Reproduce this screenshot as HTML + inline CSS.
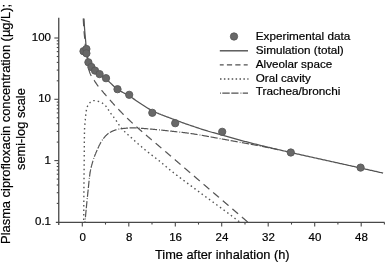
<!DOCTYPE html><html><head><meta charset="utf-8"><title>Plasma ciprofloxacin concentration</title><style>html,body{margin:0;padding:0;background:#fff}</style></head><body><svg width="385" height="262" viewBox="0 0 385 262" style="display:block">
<rect width="385" height="262" fill="#fff"/>
<g stroke="#484848" fill="none">
<path d="M58.75 17.8V225.0" stroke-width="1.3"/>
<path d="M55.85 222.4H384.6" stroke-width="1.15"/>
</g>
<g stroke="#484848" stroke-width="1.1" fill="none">
<path d="M56.75 203.4H58.75"/>
<path d="M56.75 192.7H58.75"/>
<path d="M56.75 185.0H58.75"/>
<path d="M56.75 179.1H58.75"/>
<path d="M56.75 174.2H58.75"/>
<path d="M56.75 170.1H58.75"/>
<path d="M56.75 166.5H58.75"/>
<path d="M56.75 163.4H58.75"/>
<path d="M54.35 160.6H58.75"/>
<path d="M56.75 142.1H58.75"/>
<path d="M56.75 131.4H58.75"/>
<path d="M56.75 123.7H58.75"/>
<path d="M56.75 117.8H58.75"/>
<path d="M56.75 112.9H58.75"/>
<path d="M56.75 108.8H58.75"/>
<path d="M56.75 105.2H58.75"/>
<path d="M56.75 102.1H58.75"/>
<path d="M54.35 99.3H58.75"/>
<path d="M56.75 80.8H58.75"/>
<path d="M56.75 70.1H58.75"/>
<path d="M56.75 62.4H58.75"/>
<path d="M56.75 56.5H58.75"/>
<path d="M56.75 51.6H58.75"/>
<path d="M56.75 47.5H58.75"/>
<path d="M56.75 43.9H58.75"/>
<path d="M56.75 40.8H58.75"/>
<path d="M54.35 38.0H58.75"/>
<path d="M82.3 222.4v4.2"/>
<path d="M105.5 222.4v2.2"/>
<path d="M128.8 222.4v4.2"/>
<path d="M152.0 222.4v2.2"/>
<path d="M175.3 222.4v4.2"/>
<path d="M198.5 222.4v2.2"/>
<path d="M221.7 222.4v4.2"/>
<path d="M245.0 222.4v2.2"/>
<path d="M268.2 222.4v4.2"/>
<path d="M291.5 222.4v2.2"/>
<path d="M314.7 222.4v4.2"/>
<path d="M337.9 222.4v2.2"/>
<path d="M361.2 222.4v4.2"/>
<path d="M384.4 222.4v2.2"/>
</g>
<g font-family="Liberation Sans, Arial, Helvetica, sans-serif" fill="#000" stroke="#000" stroke-width="0.2">
<g font-size="11.5">
<text x="51" y="224.9" text-anchor="end">0.1</text>
<text x="51" y="163.6" text-anchor="end">1</text>
<text x="51" y="102.3" text-anchor="end">10</text>
<text x="51" y="41.0" text-anchor="end">100</text>
<text x="82.6" y="240.7" text-anchor="middle">0</text>
<text x="129.1" y="240.7" text-anchor="middle">8</text>
<text x="175.6" y="240.7" text-anchor="middle">16</text>
<text x="222.0" y="240.7" text-anchor="middle">24</text>
<text x="268.5" y="240.7" text-anchor="middle">32</text>
<text x="315.0" y="240.7" text-anchor="middle">40</text>
<text x="361.5" y="240.7" text-anchor="middle">48</text>
</g>
<g font-size="12.2">
<text x="155" y="258.8" textLength="134.6" lengthAdjust="spacingAndGlyphs">Time after inhalation (h)</text>
<text transform="translate(10,243.9) rotate(-90)" textLength="240" lengthAdjust="spacingAndGlyphs">Plasma ciprofloxacin concentration (µg/L);</text>
<text transform="translate(25.4,170) rotate(-90)" textLength="81.8" lengthAdjust="spacingAndGlyphs">semi-log scale</text>
</g>
<g font-size="11.3">
<text x="255.8" y="40.1" textLength="94.5" lengthAdjust="spacingAndGlyphs">Experimental data</text>
<text x="255.8" y="53.9" textLength="87.9" lengthAdjust="spacingAndGlyphs">Simulation (total)</text>
<text x="255.8" y="67.6" textLength="76.4" lengthAdjust="spacingAndGlyphs">Alveolar space</text>
<text x="255.8" y="81.5" textLength="55.0" lengthAdjust="spacingAndGlyphs">Oral cavity</text>
<text x="255.8" y="95.3" textLength="84.6" lengthAdjust="spacingAndGlyphs">Trachea/bronchi</text>
</g>
</g>
<circle cx="234" cy="36.5" r="3.65" fill="#686868" stroke="#585858" stroke-width="0.9"/>
<g stroke="#505050" stroke-width="1.2" fill="none">
<path d="M219.8 50.8H248" stroke-width="1.4"/>
<path d="M219.8 64.8H247.7" stroke-dasharray="5.2 3.2" stroke-dashoffset="1.3"/>
<path d="M220 79H248.5" stroke-dasharray="1.5 2.4" stroke-width="1.4"/>
<path d="M220 93.2H248" stroke-dasharray="7.4 1.6 7.2 2 0.9 1.3" stroke-dashoffset="18.1"/>
</g>
<g transform="translate(0.1,0.4)">
<g stroke="#545454" stroke-width="1.25" fill="none" stroke-linejoin="round">
<path d="M83.90 18.20L83.94 19.11L83.98 20.02L84.03 20.94L84.08 21.85L84.13 22.76L84.18 23.67L84.24 24.58L84.29 25.49L84.35 26.41L84.41 27.32L84.47 28.23L84.54 29.14L84.60 30.05L84.67 30.96L84.75 31.87L84.82 32.78L84.91 33.69L84.99 34.60L85.08 35.50L85.16 36.41L85.25 37.32L85.34 38.23L85.42 39.14L85.50 40.05L85.58 40.96L85.66 41.87L85.73 42.78L85.81 43.69L85.88 44.60L85.96 45.51L86.03 46.42L86.12 47.33L86.21 48.24L86.30 49.15L86.41 50.05L86.53 50.95L86.67 51.86L86.82 52.76L86.98 53.66L87.15 54.55L87.32 55.45L87.48 56.35L87.64 57.25L87.79 58.16L87.93 59.08L88.07 59.99L88.24 60.88L88.43 61.76L88.69 62.60L89.05 63.44L89.47 64.26L89.95 65.06L90.47 65.84L91.00 66.59L91.54 67.31L92.12 68.00L92.75 68.66L93.41 69.31L94.09 69.94L94.76 70.56L95.44 71.17L96.12 71.77L96.82 72.36L97.53 72.94L98.25 73.50L98.97 74.06L99.71 74.59L100.47 75.10L101.23 75.60L102.01 76.09L102.78 76.59L103.55 77.08L104.31 77.58L105.06 78.10L105.79 78.64L106.50 79.21L107.21 79.79L107.90 80.38L108.58 81.00L109.26 81.62L109.93 82.24L110.60 82.88L111.26 83.51L111.93 84.15L112.60 84.78L113.27 85.40L113.95 86.02L114.63 86.62L115.33 87.21L116.03 87.78L116.75 88.33L117.48 88.85L118.23 89.36L118.99 89.85L119.76 90.32L120.54 90.78L121.34 91.24L122.14 91.68L122.94 92.12L123.75 92.55L124.56 92.99L125.37 93.42L126.18 93.86L126.98 94.31L127.77 94.76L128.56 95.23L129.34 95.71L130.11 96.20L130.87 96.69L131.64 97.19L132.40 97.70L133.15 98.21L133.91 98.72L134.66 99.23L135.42 99.75L136.17 100.26L136.93 100.77L137.69 101.28L138.45 101.79L139.21 102.29L139.98 102.79L140.75 103.28L141.51 103.78L142.28 104.28L143.05 104.78L143.82 105.29L144.58 105.79L145.35 106.29L146.12 106.78L146.90 107.27L147.68 107.76L148.46 108.23L149.24 108.69L150.03 109.14L150.83 109.58L151.63 110.01L152.43 110.42L153.24 110.81L154.06 111.20L154.88 111.59L155.71 111.96L156.54 112.33L157.37 112.70L158.21 113.05L159.05 113.41L159.90 113.75L160.74 114.10L161.59 114.43L162.44 114.77L163.30 115.10L164.15 115.43L165.01 115.76L165.87 116.08L166.73 116.40L167.59 116.72L168.45 117.04L169.31 117.36L170.17 117.68L171.03 118.00L171.88 118.32L172.74 118.64L173.60 118.97L174.45 119.29L175.30 119.62L176.16 119.94L177.01 120.27L177.86 120.59L178.72 120.91L179.57 121.23L180.43 121.55L181.29 121.86L182.14 122.18L183.00 122.49L183.86 122.80L184.72 123.10L185.58 123.40L186.45 123.70L187.31 124.00L188.18 124.29L189.04 124.58L189.91 124.87L190.77 125.16L191.64 125.45L192.50 125.75L193.37 126.04L194.23 126.33L195.10 126.63L195.96 126.92L196.83 127.22L197.69 127.51L198.56 127.80L199.42 128.09L200.29 128.38L201.16 128.66L202.02 128.94L202.89 129.22L203.76 129.50L204.63 129.77L205.51 130.04L206.38 130.31L207.25 130.57L208.13 130.83L209.00 131.08L209.88 131.33L210.76 131.58L211.64 131.83L212.52 132.08L213.40 132.32L214.28 132.56L215.16 132.81L216.04 133.05L216.92 133.29L217.80 133.53L218.68 133.77L219.56 134.02L220.44 134.26L221.32 134.51L222.20 134.76L223.08 135.01L223.95 135.26L224.83 135.51L225.71 135.76L226.59 136.01L227.46 136.26L228.34 136.52L229.22 136.77L230.10 137.02L230.97 137.28L231.85 137.53L232.73 137.78L233.61 138.03L234.49 138.28L235.36 138.53L236.24 138.77L237.12 139.02L238.00 139.26L238.88 139.50L239.77 139.74L240.65 139.97L241.53 140.20L242.41 140.43L243.30 140.66L244.18 140.89L245.07 141.11L245.95 141.33L246.84 141.56L247.72 141.78L248.61 142.01L249.49 142.23L250.38 142.46L251.26 142.68L252.15 142.91L253.03 143.13L253.92 143.35L254.80 143.58L255.69 143.80L256.57 144.02L257.46 144.24L258.35 144.46L259.23 144.68L260.12 144.90L261.00 145.12L261.89 145.34L262.78 145.56L263.66 145.78L264.55 145.99L265.44 146.21L266.33 146.42L267.21 146.63L268.10 146.85L268.99 147.06L269.88 147.27L270.77 147.48L271.65 147.69L272.54 147.90L273.43 148.11L274.32 148.32L275.21 148.53L276.10 148.73L276.99 148.94L277.88 149.15L278.77 149.35L279.66 149.56L280.54 149.77L281.43 149.97L282.32 150.18L283.21 150.38L284.10 150.59L284.99 150.79L285.88 151.00L286.77 151.20L287.66 151.40L288.55 151.61L289.44 151.81L290.33 152.02L291.22 152.22L292.11 152.42L293.00 152.62L293.89 152.83L294.78 153.03L295.67 153.23L296.57 153.43L297.46 153.63L298.35 153.83L299.24 154.03L300.13 154.23L301.02 154.43L301.91 154.63L302.80 154.83L303.69 155.03L304.58 155.22L305.47 155.42L306.37 155.62L307.26 155.82L308.15 156.02L309.04 156.21L309.93 156.41L310.82 156.61L311.71 156.81L312.60 157.01L313.50 157.20L314.39 157.40L315.28 157.60L316.17 157.79L317.06 157.99L317.95 158.19L318.84 158.39L319.74 158.58L320.63 158.78L321.52 158.98L322.41 159.18L323.30 159.37L324.19 159.57L325.08 159.77L325.97 159.97L326.87 160.16L327.76 160.36L328.65 160.56L329.54 160.76L330.43 160.95L331.32 161.15L332.21 161.35L333.11 161.55L334.00 161.74L334.89 161.94L335.78 162.14L336.67 162.33L337.56 162.53L338.45 162.73L339.35 162.92L340.24 163.12L341.13 163.32L342.02 163.52L342.91 163.71L343.80 163.91L344.69 164.11L345.59 164.31L346.48 164.50L347.37 164.70L348.26 164.90L349.15 165.10L350.04 165.29L350.93 165.49L351.83 165.69L352.72 165.89L353.61 166.08L354.50 166.28L355.39 166.48L356.28 166.68L357.17 166.88L358.06 167.08L358.95 167.28L359.85 167.48L360.74 167.68L361.63 167.87L362.52 168.07L363.41 168.27L364.30 168.47L365.19 168.67L366.08 168.87L366.97 169.07L367.86 169.28L368.75 169.48L369.64 169.68L370.53 169.88L371.42 170.08L372.32 170.28L373.21 170.48L374.10 170.68L374.99 170.88L375.88 171.08L376.77 171.29L377.66 171.49L378.55 171.69L379.44 171.89L380.33 172.09L381.22 172.30L382.11 172.50L383.00 172.70"/>
<path d="M83.20 18.20L83.21 18.50L83.23 18.81L83.24 19.11L83.25 19.42L83.27 19.72L83.28 20.03L83.30 20.33L83.31 20.63L83.33 20.94L83.35 21.24L83.36 21.55L83.38 21.85L83.39 22.15L83.41 22.46L83.43 22.76L83.45 23.07L83.46 23.37L83.48 23.67L83.50 23.98L83.52 24.28L83.54 24.58L83.56 24.89L83.57 25.19L83.59 25.50L83.61 25.80L83.63 26.10L83.65 26.41L83.67 26.71L83.69 27.02L83.71 27.32L83.73 27.62L83.75 27.93L83.78 28.23L83.80 28.53L83.82 28.84L83.84 29.14L83.86 29.44L83.88 29.75L83.90 30.05L83.93 30.35L83.95 30.66L83.97 30.96L84.00 31.27L84.02 31.57L84.04 31.87L84.07 32.18L84.10 32.48L84.12 32.78L84.15 33.09L84.17 33.39L84.20 33.69L84.23 33.99L84.26 34.30L84.28 34.60L84.31 34.90L84.34 35.21L84.37 35.51L84.40 35.81L84.43 36.12L84.46 36.42L84.48 36.72L84.51 37.03L84.54 37.33L84.57 37.63L84.60 37.94L84.63 38.24L84.66 38.54L84.69 38.84L84.72 39.15L84.75 39.45L84.78 39.75L84.81 40.06L84.83 40.36L84.86 40.66L84.89 40.97L84.92 41.27L84.95 41.57L84.97 41.88L85.00 42.18L85.03 42.48L85.06 42.79L85.08 43.09L85.11 43.39L85.14 43.70L85.17 44.00L85.20 44.30L85.23 44.61L85.25 44.91L85.28 45.21L85.31 45.51L85.34 45.82L85.37 46.12L85.40 46.42L85.43 46.73L85.46 47.03L85.49 47.33L85.53 47.63L85.56 47.94L85.59 48.24L85.63 48.54L85.66 48.84L85.70 49.15L85.73 49.45L85.77 49.75L85.81 50.05L85.85 50.35L85.89 50.65L85.93 50.96L85.97 51.26L86.02 51.56L86.07 51.86L86.12 52.16L86.16 52.46L86.22 52.76L86.27 53.06L86.32 53.36L86.37 53.66L86.42 53.96L86.48 54.26L86.53 54.56L86.58 54.86L86.64 55.16L86.69 55.46L86.74 55.76L86.79 56.06L86.84 56.36L86.89 56.66L86.94 56.96L86.99 57.26L87.04 57.56L87.08 57.86L87.12 58.17L87.17 58.47L87.21 58.77L87.25 59.07L87.28 59.37L87.32 59.68L87.36 59.98L87.39 60.28L87.43 60.58L87.46 60.89L87.50 61.19L87.53 61.49L87.57 61.80L87.60 62.10L87.64 62.40L87.67 62.70L87.71 63.01L87.74 63.31L87.78 63.61L87.82 63.91L87.86 64.22L87.90 64.52L87.94 64.82L87.98 65.12L88.03 65.42L88.07 65.72L88.12 66.02L88.17 66.32L88.22 66.62L88.28 66.92L88.33 67.21L88.40 67.51L88.46 67.81L88.53 68.11L88.60 68.41L88.67 68.70L88.74 69.00L88.82 69.29L88.90 69.59L88.98 69.88L89.06 70.17L89.15 70.46L89.24 70.75L89.33 71.05L89.42 71.34L89.52 71.63L89.62 71.91L89.73 72.20L89.83 72.49L89.95 72.77L90.06 73.06L90.18 73.34L90.29 73.62L90.42 73.90L90.54 74.17L90.67 74.44L90.80 74.71L90.94 74.98L91.09 75.25L91.24 75.51L91.39 75.77L91.55 76.03L91.71 76.29L91.87 76.55L92.04 76.80L92.21 77.06L92.38 77.32L92.55 77.57L92.72 77.83L92.89 78.08L93.06 78.33L93.23 78.59L93.40 78.84L93.56 79.10L93.73 79.36L93.89 79.61L94.06 79.87L94.23 80.12L94.39 80.38L94.56 80.63L94.72 80.89L94.89 81.14L95.06 81.40L95.23 81.65L95.40 81.91L95.57 82.16L95.74 82.41L95.91 82.66L96.08 82.92L96.25 83.17L96.42 83.42L96.60 83.67L96.77 83.92L96.95 84.17L97.12 84.41L97.30 84.66L97.48 84.90L97.66 85.15L97.84 85.39L98.03 85.63L98.21 85.87L98.40 86.11L98.59 86.35L98.78 86.59L98.97 86.83L99.16 87.07L99.35 87.30L99.54 87.54L99.74 87.77L99.93 88.01L100.13 88.24L100.32 88.48L100.52 88.71L100.71 88.94L100.91 89.18L101.11 89.41L101.30 89.64L101.50 89.88L101.69 90.11L101.89 90.34L102.08 90.58L102.28 90.81L102.47 91.04L102.67 91.28L102.87 91.51L103.06 91.74L103.26 91.97L103.46 92.20L103.66 92.44L103.85 92.67L104.05 92.90L104.25 93.13L104.45 93.36L104.65 93.59L104.85 93.82L105.05 94.05L105.24 94.28L105.44 94.51L105.64 94.74L105.84 94.97L106.04 95.20L106.24 95.43L106.44 95.66L106.64 95.89L106.84 96.12L107.04 96.35L107.24 96.58L107.44 96.81L107.64 97.04L107.84 97.27L108.04 97.50L108.24 97.73L108.44 97.96L108.64 98.19L108.84 98.42L109.04 98.65L109.24 98.88L109.44 99.10L109.64 99.33L109.84 99.56L110.04 99.79L110.25 100.02L110.45 100.25L110.65 100.48L110.85 100.70L111.05 100.93L111.25 101.16L111.46 101.39L111.66 101.62L111.86 101.84L112.06 102.07L112.27 102.30L112.47 102.52L112.67 102.75L112.88 102.98L113.08 103.20L113.28 103.43L113.49 103.65L113.69 103.88L113.90 104.11L114.10 104.33L114.31 104.55L114.51 104.78L114.72 105.00L114.93 105.23L115.13 105.45L115.34 105.67L115.54 105.90L115.75 106.12L115.96 106.34L116.17 106.57L116.37 106.79L116.58 107.01L116.79 107.23L117.00 107.46L117.21 107.68L117.41 107.90L117.62 108.12L117.83 108.34L118.04 108.57L118.25 108.79L118.46 109.01L118.67 109.23L118.88 109.45L119.09 109.67L119.30 109.89L119.51 110.11L119.72 110.33L119.93 110.55L120.14 110.77L120.35 110.99L120.57 111.21L120.78 111.43L120.99 111.64L121.20 111.86L121.41 112.08L121.63 112.30L121.84 112.52L122.05 112.73L122.27 112.95L122.48 113.17L122.69 113.39L122.91 113.60L123.12 113.82L123.34 114.03L123.55 114.25L123.76 114.47L123.98 114.68L124.20 114.90L124.41 115.11L124.63 115.32L124.84 115.54L125.06 115.75L125.28 115.97L125.49 116.18L125.71 116.39L125.93 116.61L126.15 116.82L126.36 117.03L126.58 117.24L126.80 117.45L127.02 117.67L127.24 117.88L127.46 118.09L127.68 118.30L127.90 118.51L128.12 118.72L128.34 118.93L128.56 119.14L128.78 119.35L129.00 119.56L129.22 119.77L129.44 119.98L129.66 120.19L129.89 120.40L130.11 120.61L130.33 120.81L130.55 121.02L130.77 121.23L131.00 121.44L131.22 121.65L131.44 121.85L131.67 122.06L131.89 122.27L132.11 122.47L132.34 122.68L132.56 122.89L132.78 123.09L133.01 123.30L133.23 123.50L133.46 123.71L133.68 123.91L133.91 124.12L134.13 124.32L134.36 124.53L134.58 124.73L134.81 124.94L135.03 125.14L135.26 125.34L135.49 125.55L135.71 125.75L135.94 125.95L136.17 126.16L136.40 126.36L136.62 126.56L136.85 126.76L137.08 126.96L137.31 127.16L137.54 127.37L137.77 127.57L137.99 127.77L138.22 127.97L138.45 128.17L138.68 128.37L138.91 128.57L139.14 128.77L139.37 128.97L139.60 129.17L139.83 129.37L140.05 129.57L140.28 129.78L140.51 129.98L140.74 130.18L140.97 130.38L141.20 130.58L141.43 130.78L141.66 130.98L141.89 131.17L142.12 131.37L142.35 131.57L142.58 131.77L142.81 131.97L143.04 132.17L143.27 132.37L143.50 132.57L143.73 132.77L143.96 132.97L144.19 133.16L144.43 133.36L144.66 133.56L144.89 133.76L145.12 133.96L145.35 134.15L145.58 134.35L145.81 134.55L146.04 134.75L146.28 134.94L146.51 135.14L146.74 135.34L146.97 135.54L147.20 135.73L147.44 135.93L147.67 136.13L147.90 136.32L148.13 136.52L148.36 136.72L148.60 136.92L148.83 137.11L149.06 137.31L149.29 137.51L149.53 137.70L149.76 137.90L149.99 138.10L150.22 138.29L150.46 138.49L150.69 138.69L150.92 138.88L151.15 139.08L151.39 139.27L151.62 139.47L151.85 139.67L152.08 139.86L152.32 140.06L152.55 140.26L152.78 140.45L153.01 140.65L153.25 140.85L153.48 141.04L153.71 141.24L153.94 141.43L154.18 141.63L154.41 141.83L154.64 142.02L154.88 142.22L155.11 142.42L155.34 142.61L155.57 142.81L155.81 143.01L156.04 143.20L156.27 143.40L156.50 143.60L156.73 143.79L156.97 143.99L157.20 144.19L157.43 144.38L157.66 144.58L157.90 144.78L158.13 144.97L158.36 145.17L158.59 145.37L158.82 145.57L159.05 145.76L159.29 145.96L159.52 146.16L159.75 146.36L159.98 146.55L160.21 146.75L160.44 146.95L160.68 147.15L160.91 147.35L161.14 147.54L161.37 147.74L161.60 147.94L161.83 148.14L162.06 148.33L162.29 148.53L162.53 148.73L162.76 148.93L162.99 149.13L163.22 149.32L163.45 149.52L163.68 149.72L163.91 149.92L164.14 150.12L164.38 150.31L164.61 150.51L164.84 150.71L165.07 150.91L165.30 151.11L165.53 151.30L165.76 151.50L165.99 151.70L166.23 151.90L166.46 152.10L166.69 152.29L166.92 152.49L167.15 152.69L167.38 152.89L167.61 153.09L167.84 153.29L168.07 153.48L168.31 153.68L168.54 153.88L168.77 154.08L169.00 154.28L169.23 154.47L169.46 154.67L169.69 154.87L169.92 155.07L170.15 155.27L170.38 155.47L170.62 155.66L170.85 155.86L171.08 156.06L171.31 156.26L171.54 156.46L171.77 156.66L172.00 156.85L172.23 157.05L172.46 157.25L172.69 157.45L172.93 157.65L173.16 157.84L173.39 158.04L173.62 158.24L173.85 158.44L174.08 158.64L174.31 158.84L174.54 159.03L174.77 159.23L175.00 159.43L175.24 159.63L175.47 159.83L175.70 160.03L175.93 160.22L176.16 160.42L176.39 160.62L176.62 160.82L176.85 161.02L177.08 161.22L177.31 161.41L177.54 161.61L177.78 161.81L178.01 162.01L178.24 162.21L178.47 162.41L178.70 162.60L178.93 162.80L179.16 163.00L179.39 163.20L179.62 163.40L179.85 163.60L180.08 163.79L180.32 163.99L180.55 164.19L180.78 164.39L181.01 164.59L181.24 164.79L181.47 164.98L181.70 165.18L181.93 165.38L182.16 165.58L182.39 165.78L182.63 165.98L182.86 166.17L183.09 166.37L183.32 166.57L183.55 166.77L183.78 166.97L184.01 167.17L184.24 167.36L184.47 167.56L184.70 167.76L184.94 167.96L185.17 168.16L185.40 168.35L185.63 168.55L185.86 168.75L186.09 168.95L186.32 169.15L186.55 169.35L186.78 169.54L187.02 169.74L187.25 169.94L187.48 170.14L187.71 170.34L187.94 170.53L188.17 170.73L188.40 170.93L188.63 171.13L188.86 171.33L189.10 171.52L189.33 171.72L189.56 171.92L189.79 172.12L190.02 172.32L190.25 172.52L190.48 172.71L190.71 172.91L190.95 173.11L191.18 173.31L191.41 173.51L191.64 173.70L191.87 173.90L192.10 174.10L192.33 174.30L192.56 174.50L192.79 174.69L193.03 174.89L193.26 175.09L193.49 175.29L193.72 175.49L193.95 175.68L194.18 175.88L194.41 176.08L194.64 176.28L194.88 176.48L195.11 176.67L195.34 176.87L195.57 177.07L195.80 177.27L196.03 177.47L196.26 177.66L196.49 177.86L196.72 178.06L196.96 178.26L197.19 178.46L197.42 178.65L197.65 178.85L197.88 179.05L198.11 179.25L198.34 179.45L198.57 179.65L198.81 179.84L199.04 180.04L199.27 180.24L199.50 180.44L199.73 180.64L199.96 180.83L200.19 181.03L200.42 181.23L200.65 181.43L200.89 181.63L201.12 181.82L201.35 182.02L201.58 182.22L201.81 182.42L202.04 182.62L202.27 182.81L202.50 183.01L202.74 183.21L202.97 183.41L203.20 183.61L203.43 183.80L203.66 184.00L203.89 184.20L204.12 184.40L204.35 184.60L204.59 184.79L204.82 184.99L205.05 185.19L205.28 185.39L205.51 185.59L205.74 185.78L205.97 185.98L206.20 186.18L206.43 186.38L206.67 186.58L206.90 186.77L207.13 186.97L207.36 187.17L207.59 187.37L207.82 187.57L208.05 187.76L208.28 187.96L208.52 188.16L208.75 188.36L208.98 188.56L209.21 188.75L209.44 188.95L209.67 189.15L209.90 189.35L210.13 189.55L210.37 189.74L210.60 189.94L210.83 190.14L211.06 190.34L211.29 190.54L211.52 190.73L211.75 190.93L211.98 191.13L212.22 191.33L212.45 191.53L212.68 191.72L212.91 191.92L213.14 192.12L213.37 192.32L213.60 192.52L213.83 192.71L214.07 192.91L214.30 193.11L214.53 193.31L214.76 193.51L214.99 193.70L215.22 193.90L215.45 194.10L215.68 194.30L215.92 194.50L216.15 194.69L216.38 194.89L216.61 195.09L216.84 195.29L217.07 195.49L217.30 195.68L217.53 195.88L217.77 196.08L218.00 196.28L218.23 196.48L218.46 196.67L218.69 196.87L218.92 197.07L219.15 197.27L219.38 197.47L219.62 197.66L219.85 197.86L220.08 198.06L220.31 198.26L220.54 198.45L220.77 198.65L221.00 198.85L221.23 199.05L221.47 199.25L221.70 199.44L221.93 199.64L222.16 199.84L222.39 200.04L222.62 200.24L222.85 200.43L223.08 200.63L223.32 200.83L223.55 201.03L223.78 201.23L224.01 201.42L224.24 201.62L224.47 201.82L224.70 202.02L224.93 202.22L225.17 202.41L225.40 202.61L225.63 202.81L225.86 203.01L226.09 203.21L226.32 203.40L226.55 203.60L226.79 203.80L227.02 204.00L227.25 204.19L227.48 204.39L227.71 204.59L227.94 204.79L228.17 204.99L228.40 205.18L228.64 205.38L228.87 205.58L229.10 205.78L229.33 205.98L229.56 206.17L229.79 206.37L230.02 206.57L230.25 206.77L230.49 206.97L230.72 207.16L230.95 207.36L231.18 207.56L231.41 207.76L231.64 207.96L231.87 208.15L232.11 208.35L232.34 208.55L232.57 208.75L232.80 208.94L233.03 209.14L233.26 209.34L233.49 209.54L233.72 209.74L233.96 209.93L234.19 210.13L234.42 210.33L234.65 210.53L234.88 210.73L235.11 210.92L235.34 211.12L235.57 211.32L235.81 211.52L236.04 211.71L236.27 211.91L236.50 212.11L236.73 212.31L236.96 212.51L237.19 212.70L237.43 212.90L237.66 213.10L237.89 213.30L238.12 213.50L238.35 213.69L238.58 213.89L238.81 214.09L239.05 214.29L239.28 214.48L239.51 214.68L239.74 214.88L239.97 215.08L240.20 215.28L240.43 215.47L240.66 215.67L240.90 215.87L241.13 216.07L241.36 216.27L241.59 216.46L241.82 216.66L242.05 216.86L242.28 217.06L242.52 217.25L242.75 217.45L242.98 217.65L243.21 217.85L243.44 218.05L243.67 218.24L243.90 218.44L244.14 218.64L244.37 218.84L244.60 219.04L244.83 219.23L245.06 219.43L245.29 219.63L245.52 219.83L245.75 220.02L245.99 220.22L246.22 220.42L246.45 220.62L246.68 220.82L246.91 221.01L247.14 221.21L247.37 221.41L247.61 221.61L247.84 221.80L248.07 222.00L248.30 222.20" stroke-dasharray="7.6 5.03"/>
<path d="M83.60 221.80L83.60 221.45L83.60 221.09L83.60 220.74L83.61 220.39L83.61 220.03L83.61 219.68L83.61 219.33L83.61 218.97L83.61 218.62L83.62 218.27L83.62 217.91L83.62 217.56L83.62 217.21L83.62 216.86L83.63 216.50L83.63 216.15L83.63 215.80L83.63 215.44L83.63 215.09L83.63 214.74L83.64 214.38L83.64 214.03L83.64 213.68L83.64 213.32L83.64 212.97L83.65 212.62L83.65 212.26L83.65 211.91L83.65 211.56L83.65 211.20L83.66 210.85L83.66 210.50L83.66 210.14L83.66 209.79L83.66 209.44L83.67 209.09L83.67 208.73L83.67 208.38L83.67 208.03L83.68 207.67L83.68 207.32L83.68 206.97L83.68 206.61L83.68 206.26L83.69 205.91L83.69 205.55L83.69 205.20L83.69 204.85L83.70 204.49L83.70 204.14L83.70 203.79L83.70 203.43L83.71 203.08L83.71 202.73L83.71 202.37L83.71 202.02L83.71 201.67L83.72 201.32L83.72 200.96L83.72 200.61L83.72 200.26L83.73 199.90L83.73 199.55L83.73 199.20L83.73 198.84L83.74 198.49L83.74 198.14L83.74 197.78L83.74 197.43L83.75 197.08L83.75 196.72L83.75 196.37L83.75 196.02L83.76 195.66L83.76 195.31L83.76 194.96L83.77 194.61L83.77 194.25L83.77 193.90L83.77 193.55L83.78 193.19L83.78 192.84L83.78 192.49L83.78 192.13L83.79 191.78L83.79 191.43L83.79 191.07L83.79 190.72L83.80 190.37L83.80 190.01L83.80 189.66L83.81 189.31L83.81 188.95L83.81 188.60L83.81 188.25L83.82 187.89L83.82 187.54L83.82 187.19L83.83 186.84L83.83 186.48L83.83 186.13L83.84 185.78L83.84 185.42L83.84 185.07L83.84 184.72L83.85 184.36L83.85 184.01L83.85 183.66L83.86 183.30L83.86 182.95L83.86 182.60L83.87 182.24L83.87 181.89L83.87 181.54L83.88 181.18L83.88 180.83L83.89 180.48L83.89 180.12L83.89 179.77L83.90 179.42L83.90 179.07L83.90 178.71L83.91 178.36L83.91 178.01L83.91 177.65L83.92 177.30L83.92 176.95L83.92 176.59L83.93 176.24L83.93 175.89L83.94 175.53L83.94 175.18L83.94 174.83L83.95 174.47L83.95 174.12L83.95 173.77L83.96 173.41L83.96 173.06L83.97 172.71L83.97 172.36L83.97 172.00L83.98 171.65L83.98 171.30L83.98 170.94L83.99 170.59L83.99 170.24L84.00 169.88L84.00 169.53L84.00 169.18L84.01 168.82L84.01 168.47L84.02 168.12L84.02 167.76L84.02 167.41L84.03 167.06L84.03 166.70L84.03 166.35L84.04 166.00L84.04 165.64L84.05 165.29L84.05 164.94L84.05 164.59L84.06 164.23L84.06 163.88L84.06 163.53L84.07 163.17L84.07 162.82L84.07 162.47L84.08 162.11L84.08 161.76L84.09 161.41L84.09 161.05L84.09 160.70L84.10 160.35L84.10 159.99L84.10 159.64L84.11 159.29L84.11 158.93L84.11 158.58L84.12 158.23L84.12 157.88L84.12 157.52L84.13 157.17L84.13 156.82L84.13 156.46L84.13 156.11L84.14 155.76L84.14 155.40L84.14 155.05L84.14 154.70L84.15 154.34L84.15 153.99L84.15 153.64L84.15 153.28L84.16 152.93L84.16 152.58L84.16 152.22L84.16 151.87L84.17 151.52L84.17 151.16L84.17 150.81L84.17 150.46L84.18 150.10L84.18 149.75L84.18 149.40L84.18 149.04L84.19 148.69L84.19 148.34L84.19 147.98L84.19 147.63L84.19 147.28L84.20 146.92L84.20 146.57L84.20 146.22L84.20 145.86L84.21 145.51L84.21 145.16L84.21 144.80L84.21 144.45L84.22 144.10L84.22 143.74L84.22 143.39L84.23 143.04L84.23 142.68L84.23 142.33L84.24 141.98L84.24 141.62L84.24 141.27L84.24 140.92L84.25 140.56L84.25 140.21L84.26 139.86L84.26 139.51L84.26 139.15L84.27 138.80L84.27 138.45L84.27 138.09L84.28 137.74L84.28 137.39L84.29 137.03L84.29 136.68L84.30 136.33L84.30 135.97L84.31 135.62L84.31 135.27L84.31 134.92L84.32 134.56L84.33 134.21L84.33 133.86L84.34 133.50L84.34 133.15L84.35 132.80L84.35 132.44L84.36 132.09L84.37 131.74L84.37 131.39L84.38 131.03L84.39 130.68L84.39 130.33L84.40 129.97L84.41 129.62L84.42 129.27L84.43 128.92L84.45 128.56L84.47 128.21L84.49 127.86L84.51 127.51L84.53 127.15L84.56 126.80L84.58 126.45L84.61 126.10L84.63 125.74L84.66 125.39L84.69 125.04L84.72 124.69L84.74 124.33L84.77 123.98L84.80 123.63L84.83 123.28L84.86 122.93L84.89 122.57L84.92 122.22L84.95 121.87L84.99 121.52L85.02 121.17L85.06 120.82L85.10 120.47L85.13 120.11L85.17 119.76L85.20 119.41L85.23 119.06L85.26 118.71L85.29 118.36L85.32 118.00L85.35 117.65L85.38 117.30L85.41 116.95L85.45 116.60L85.48 116.24L85.51 115.89L85.54 115.54L85.58 115.19L85.62 114.84L85.65 114.49L85.69 114.13L85.73 113.78L85.77 113.43L85.81 113.08L85.85 112.73L85.89 112.38L85.94 112.03L85.99 111.68L86.04 111.33L86.09 110.98L86.14 110.63L86.20 110.28L86.27 109.94L86.33 109.59L86.41 109.24L86.48 108.89L86.56 108.54L86.65 108.19L86.74 107.84L86.84 107.50L86.94 107.16L87.05 106.82L87.16 106.49L87.28 106.16L87.40 105.84L87.53 105.53L87.67 105.21L87.83 104.89L88.01 104.57L88.19 104.26L88.39 103.95L88.60 103.64L88.82 103.35L89.05 103.06L89.28 102.80L89.52 102.55L89.77 102.32L90.01 102.10L90.28 101.89L90.56 101.67L90.85 101.45L91.16 101.23L91.48 101.03L91.80 100.83L92.13 100.66L92.47 100.50L92.81 100.38L93.15 100.28L93.48 100.22L93.81 100.20L94.15 100.21L94.49 100.23L94.83 100.27L95.18 100.32L95.54 100.37L95.89 100.44L96.24 100.52L96.60 100.60L96.95 100.68L97.30 100.77L97.65 100.86L97.99 100.95L98.33 101.03L98.67 101.13L99.00 101.24L99.34 101.35L99.68 101.47L100.01 101.61L100.34 101.75L100.67 101.89L101.00 102.04L101.32 102.20L101.63 102.37L101.94 102.53L102.24 102.70L102.53 102.88L102.82 103.07L103.10 103.27L103.39 103.48L103.66 103.70L103.94 103.93L104.21 104.17L104.47 104.42L104.73 104.67L104.99 104.92L105.23 105.18L105.47 105.44L105.71 105.70L105.94 105.96L106.16 106.23L106.37 106.50L106.58 106.79L106.78 107.08L106.98 107.37L107.17 107.67L107.37 107.97L107.56 108.27L107.75 108.57L107.95 108.87L108.14 109.16L108.34 109.46L108.54 109.75L108.73 110.05L108.93 110.34L109.12 110.64L109.31 110.93L109.50 111.23L109.70 111.52L109.89 111.82L110.09 112.11L110.29 112.41L110.49 112.70L110.69 112.98L110.89 113.27L111.10 113.56L111.31 113.84L111.53 114.12L111.74 114.40L111.96 114.68L112.17 114.96L112.39 115.24L112.61 115.51L112.83 115.79L113.05 116.07L113.27 116.35L113.49 116.62L113.71 116.90L113.92 117.18L114.14 117.46L114.35 117.74L114.57 118.02L114.78 118.31L114.99 118.59L115.19 118.88L115.40 119.17L115.60 119.46L115.81 119.75L116.01 120.04L116.21 120.33L116.41 120.63L116.60 120.92L116.80 121.22L117.00 121.51L117.20 121.81L117.39 122.10L117.59 122.40L117.79 122.70L117.98 122.99L118.18 123.29L118.38 123.58L118.57 123.88L118.77 124.17L118.97 124.46L119.17 124.76L119.37 125.05L119.57 125.34L119.78 125.62L119.98 125.91L120.19 126.20L120.40 126.48L120.61 126.76L120.82 127.04L121.03 127.32L121.25 127.59L121.47 127.86L121.69 128.13L121.92 128.40L122.14 128.67L122.37 128.93L122.60 129.19L122.84 129.45L123.07 129.71L123.31 129.96L123.55 130.22L123.80 130.47L124.04 130.72L124.29 130.97L124.54 131.22L124.79 131.47L125.04 131.72L125.29 131.96L125.55 132.21L125.80 132.45L126.06 132.70L126.32 132.94L126.58 133.18L126.84 133.42L127.10 133.66L127.36 133.90L127.63 134.14L127.89 134.38L128.15 134.61L128.42 134.85L128.68 135.09L128.95 135.33L129.22 135.56L129.48 135.80L129.75 136.03L130.01 136.27L130.28 136.51L130.54 136.74L130.81 136.98L131.07 137.21L131.34 137.45L131.60 137.69L131.86 137.92L132.13 138.16L132.39 138.40L132.65 138.64L132.91 138.87L133.17 139.11L133.43 139.35L133.69 139.59L133.96 139.82L134.22 140.06L134.48 140.30L134.74 140.53L135.00 140.77L135.27 141.01L135.53 141.24L135.79 141.48L136.06 141.71L136.32 141.95L136.59 142.18L136.85 142.42L137.11 142.65L137.38 142.89L137.64 143.12L137.91 143.35L138.17 143.59L138.44 143.82L138.70 144.05L138.97 144.29L139.24 144.52L139.50 144.75L139.77 144.98L140.04 145.21L140.30 145.45L140.57 145.68L140.84 145.91L141.11 146.14L141.38 146.37L141.64 146.60L141.91 146.83L142.18 147.05L142.45 147.28L142.72 147.51L142.99 147.74L143.26 147.97L143.53 148.19L143.80 148.42L144.07 148.65L144.34 148.87L144.62 149.10L144.89 149.32L145.16 149.55L145.43 149.77L145.70 150.00L145.98 150.22L146.25 150.44L146.53 150.66L146.80 150.88L147.08 151.10L147.36 151.32L147.63 151.54L147.91 151.76L148.19 151.98L148.47 152.19L148.74 152.41L149.02 152.63L149.30 152.84L149.58 153.06L149.86 153.28L150.14 153.49L150.42 153.71L150.70 153.92L150.98 154.14L151.26 154.35L151.54 154.57L151.83 154.78L152.11 155.00L152.39 155.21L152.67 155.42L152.95 155.64L153.23 155.85L153.51 156.07L153.79 156.28L154.07 156.50L154.35 156.71L154.63 156.93L154.91 157.14L155.19 157.36L155.47 157.57L155.75 157.79L156.03 158.01L156.31 158.22L156.59 158.44L156.87 158.66L157.14 158.88L157.42 159.10L157.70 159.32L157.97 159.54L158.25 159.76L158.52 159.98L158.80 160.20L159.07 160.42L159.35 160.65L159.62 160.87L159.89 161.09L160.16 161.32L160.44 161.54L160.71 161.77L160.98 162.00L161.25 162.22L161.52 162.45L161.79 162.68L162.06 162.91L162.33 163.14L162.60 163.37L162.87 163.59L163.14 163.82L163.40 164.05L163.67 164.28L163.94 164.51L164.21 164.74L164.48 164.97L164.75 165.20L165.02 165.43L165.28 165.66L165.55 165.89L165.82 166.12L166.09 166.35L166.36 166.57L166.63 166.80L166.90 167.03L167.17 167.26L167.44 167.48L167.71 167.71L167.99 167.94L168.26 168.16L168.53 168.39L168.80 168.61L169.08 168.83L169.35 169.06L169.62 169.28L169.90 169.50L170.17 169.72L170.45 169.94L170.73 170.16L171.00 170.38L171.28 170.60L171.56 170.82L171.83 171.04L172.11 171.26L172.39 171.47L172.66 171.69L172.94 171.91L173.22 172.13L173.50 172.35L173.78 172.56L174.05 172.78L174.33 173.00L174.61 173.21L174.89 173.43L175.17 173.65L175.45 173.86L175.73 174.08L176.01 174.29L176.29 174.51L176.57 174.72L176.85 174.94L177.13 175.15L177.41 175.37L177.69 175.58L177.97 175.79L178.25 176.01L178.53 176.22L178.82 176.44L179.10 176.65L179.38 176.86L179.66 177.08L179.94 177.29L180.22 177.50L180.51 177.71L180.79 177.93L181.07 178.14L181.35 178.35L181.63 178.56L181.92 178.78L182.20 178.99L182.48 179.20L182.77 179.41L183.05 179.62L183.33 179.84L183.61 180.05L183.90 180.26L184.18 180.47L184.46 180.68L184.75 180.89L185.03 181.10L185.31 181.32L185.60 181.53L185.88 181.74L186.16 181.95L186.45 182.16L186.73 182.37L187.01 182.58L187.30 182.79L187.58 183.00L187.86 183.21L188.15 183.42L188.43 183.64L188.72 183.85L189.00 184.06L189.28 184.27L189.57 184.48L189.85 184.69L190.13 184.90L190.42 185.11L190.70 185.32L190.98 185.53L191.27 185.74L191.55 185.95L191.83 186.16L192.12 186.38L192.40 186.59L192.68 186.80L192.97 187.01L193.25 187.22L193.53 187.43L193.82 187.64L194.10 187.85L194.38 188.06L194.67 188.28L194.95 188.49L195.23 188.70L195.51 188.91L195.80 189.12L196.08 189.33L196.36 189.55L196.65 189.76L196.93 189.97L197.21 190.18L197.50 190.39L197.78 190.60L198.06 190.81L198.35 191.02L198.63 191.23L198.91 191.44L199.20 191.66L199.48 191.87L199.76 192.08L200.05 192.29L200.33 192.50L200.61 192.71L200.90 192.92L201.18 193.13L201.47 193.34L201.75 193.55L202.04 193.76L202.32 193.97L202.60 194.17L202.89 194.38L203.17 194.59L203.46 194.80L203.74 195.01L204.03 195.22L204.31 195.43L204.60 195.64L204.88 195.85L205.17 196.06L205.45 196.27L205.73 196.48L206.02 196.68L206.30 196.89L206.59 197.10L206.87 197.31L207.16 197.52L207.44 197.73L207.73 197.94L208.01 198.15L208.30 198.35L208.58 198.56L208.87 198.77L209.15 198.98L209.44 199.19L209.73 199.40L210.01 199.61L210.30 199.81L210.58 200.02L210.87 200.23L211.15 200.44L211.44 200.65L211.72 200.86L212.01 201.06L212.29 201.27L212.58 201.48L212.86 201.69L213.15 201.90L213.43 202.11L213.72 202.31L214.00 202.52L214.29 202.73L214.57 202.94L214.86 203.15L215.14 203.36L215.43 203.56L215.72 203.77L216.00 203.98L216.29 204.19L216.57 204.40L216.86 204.61L217.14 204.81L217.43 205.02L217.71 205.23L218.00 205.44L218.28 205.65L218.57 205.86L218.85 206.07L219.14 206.28L219.42 206.48L219.71 206.69L219.99 206.90L220.28 207.11L220.56 207.32L220.85 207.53L221.13 207.74L221.41 207.95L221.70 208.16L221.98 208.37L222.27 208.57L222.55 208.78L222.84 208.99L223.12 209.20L223.41 209.41L223.69 209.62L223.97 209.83L224.26 210.04L224.54 210.25L224.83 210.46L225.11 210.67L225.39 210.88L225.68 211.09L225.96 211.30L226.25 211.51L226.53 211.72L226.81 211.93L227.10 212.14L227.38 212.35L227.66 212.56L227.95 212.78L228.23 212.99L228.51 213.20L228.80 213.41L229.08 213.62L229.36 213.83L229.64 214.04L229.93 214.25L230.21 214.47L230.49 214.68L230.77 214.89L231.06 215.10L231.34 215.31L231.62 215.53L231.90 215.74L232.19 215.95L232.47 216.16L232.75 216.38L233.03 216.59L233.31 216.80L233.59 217.02L233.88 217.23L234.16 217.44L234.44 217.66L234.72 217.87L235.00 218.08L235.28 218.30L235.56 218.51L235.84 218.73L236.12 218.94L236.40 219.16L236.68 219.37L236.96 219.59L237.24 219.80L237.52 220.02L237.80 220.24L238.08 220.46L238.36 220.67L238.63 220.89L238.91 221.11L239.19 221.33L239.47 221.55L239.74 221.76L240.02 221.98L240.30 222.20" stroke-dasharray="1.5 3.03" stroke-dashoffset="2.35" stroke-width="1.4"/>
<path d="M84.90 221.80L84.93 221.51L84.95 221.21L84.98 220.92L85.00 220.62L85.03 220.33L85.06 220.03L85.08 219.74L85.11 219.44L85.13 219.15L85.16 218.85L85.19 218.56L85.21 218.26L85.24 217.97L85.27 217.67L85.29 217.38L85.32 217.08L85.35 216.79L85.37 216.49L85.40 216.20L85.43 215.90L85.45 215.61L85.48 215.31L85.51 215.02L85.53 214.72L85.56 214.43L85.59 214.13L85.62 213.84L85.64 213.54L85.67 213.25L85.70 212.95L85.73 212.66L85.75 212.36L85.78 212.07L85.81 211.77L85.84 211.48L85.87 211.18L85.89 210.89L85.92 210.59L85.95 210.30L85.98 210.01L86.01 209.71L86.03 209.42L86.06 209.12L86.09 208.83L86.12 208.53L86.15 208.24L86.18 207.94L86.20 207.65L86.23 207.35L86.26 207.06L86.29 206.76L86.32 206.47L86.35 206.17L86.38 205.88L86.41 205.58L86.43 205.29L86.46 205.00L86.49 204.70L86.52 204.41L86.55 204.11L86.58 203.82L86.61 203.52L86.64 203.23L86.67 202.93L86.70 202.64L86.73 202.34L86.76 202.05L86.79 201.75L86.82 201.46L86.85 201.17L86.87 200.87L86.90 200.58L86.93 200.28L86.96 199.99L86.99 199.69L87.02 199.40L87.05 199.10L87.08 198.81L87.11 198.51L87.14 198.22L87.17 197.93L87.20 197.63L87.23 197.34L87.26 197.04L87.30 196.75L87.33 196.45L87.36 196.16L87.39 195.86L87.42 195.57L87.45 195.28L87.48 194.98L87.51 194.69L87.54 194.39L87.57 194.10L87.60 193.80L87.63 193.51L87.66 193.21L87.69 192.92L87.72 192.63L87.75 192.33L87.79 192.04L87.82 191.74L87.85 191.45L87.88 191.15L87.91 190.86L87.94 190.56L87.97 190.27L88.00 189.98L88.03 189.68L88.06 189.39L88.09 189.09L88.13 188.80L88.16 188.50L88.19 188.21L88.21 187.91L88.24 187.62L88.27 187.32L88.30 187.03L88.33 186.73L88.36 186.44L88.39 186.14L88.42 185.85L88.45 185.55L88.48 185.26L88.51 184.96L88.54 184.66L88.56 184.37L88.59 184.07L88.62 183.78L88.65 183.48L88.68 183.19L88.71 182.89L88.74 182.60L88.77 182.30L88.80 182.01L88.83 181.71L88.86 181.42L88.89 181.12L88.92 180.83L88.95 180.53L88.98 180.24L89.01 179.94L89.05 179.65L89.08 179.35L89.11 179.06L89.14 178.76L89.18 178.47L89.21 178.17L89.24 177.88L89.28 177.58L89.31 177.29L89.35 177.00L89.38 176.70L89.42 176.41L89.46 176.12L89.49 175.82L89.53 175.53L89.57 175.24L89.61 174.94L89.65 174.65L89.69 174.36L89.73 174.07L89.77 173.77L89.81 173.48L89.85 173.19L89.90 172.90L89.94 172.61L89.99 172.32L90.03 172.03L90.08 171.74L90.13 171.45L90.17 171.15L90.22 170.86L90.28 170.57L90.33 170.28L90.39 169.99L90.44 169.70L90.50 169.41L90.56 169.12L90.62 168.83L90.68 168.54L90.75 168.25L90.81 167.97L90.88 167.68L90.95 167.39L91.02 167.10L91.09 166.81L91.16 166.52L91.23 166.23L91.30 165.94L91.38 165.66L91.45 165.37L91.53 165.08L91.60 164.79L91.68 164.51L91.76 164.22L91.84 163.93L91.92 163.65L92.00 163.36L92.08 163.08L92.17 162.79L92.25 162.51L92.33 162.22L92.42 161.94L92.50 161.65L92.58 161.37L92.67 161.09L92.75 160.80L92.84 160.52L92.93 160.24L93.01 159.96L93.10 159.68L93.19 159.40L93.28 159.12L93.37 158.84L93.46 158.56L93.56 158.28L93.66 158.00L93.75 157.72L93.85 157.44L93.95 157.16L94.05 156.88L94.15 156.60L94.26 156.32L94.36 156.05L94.47 155.77L94.57 155.49L94.68 155.21L94.79 154.94L94.90 154.66L95.01 154.39L95.12 154.11L95.23 153.83L95.35 153.56L95.46 153.28L95.57 153.01L95.69 152.74L95.80 152.46L95.92 152.19L96.04 151.92L96.16 151.65L96.27 151.37L96.39 151.10L96.51 150.83L96.63 150.56L96.75 150.29L96.87 150.02L96.99 149.75L97.11 149.48L97.23 149.21L97.35 148.94L97.47 148.67L97.59 148.40L97.71 148.13L97.84 147.85L97.96 147.58L98.08 147.31L98.21 147.03L98.33 146.76L98.46 146.49L98.58 146.22L98.71 145.94L98.84 145.67L98.97 145.40L99.10 145.13L99.23 144.86L99.36 144.59L99.49 144.32L99.63 144.05L99.76 143.78L99.90 143.52L100.03 143.25L100.17 142.99L100.31 142.73L100.46 142.47L100.60 142.21L100.75 141.95L100.89 141.70L101.04 141.45L101.19 141.19L101.35 140.95L101.50 140.70L101.66 140.45L101.81 140.21L101.97 139.97L102.14 139.73L102.30 139.50L102.47 139.26L102.64 139.03L102.81 138.79L102.99 138.55L103.17 138.32L103.35 138.08L103.53 137.84L103.72 137.60L103.91 137.36L104.11 137.12L104.30 136.89L104.50 136.65L104.70 136.42L104.90 136.19L105.11 135.96L105.32 135.73L105.53 135.50L105.74 135.28L105.95 135.06L106.17 134.85L106.39 134.63L106.61 134.43L106.83 134.22L107.05 134.02L107.28 133.83L107.50 133.64L107.73 133.45L107.96 133.27L108.19 133.10L108.42 132.93L108.66 132.77L108.89 132.61L109.13 132.46L109.36 132.32L109.60 132.18L109.85 132.05L110.09 131.91L110.34 131.78L110.60 131.64L110.85 131.51L111.11 131.38L111.37 131.25L111.64 131.12L111.91 130.99L112.18 130.87L112.45 130.74L112.73 130.62L113.00 130.50L113.28 130.38L113.56 130.27L113.85 130.16L114.13 130.04L114.42 129.94L114.71 129.83L114.99 129.73L115.28 129.63L115.57 129.53L115.86 129.43L116.16 129.34L116.45 129.26L116.74 129.17L117.03 129.09L117.33 129.01L117.62 128.94L117.91 128.87L118.20 128.80L118.49 128.74L118.78 128.68L119.08 128.63L119.36 128.58L119.65 128.53L119.94 128.49L120.23 128.46L120.51 128.42L120.80 128.38L121.09 128.34L121.38 128.31L121.67 128.27L121.96 128.23L122.25 128.20L122.55 128.16L122.84 128.13L123.13 128.10L123.43 128.06L123.72 128.03L124.02 128.00L124.31 127.97L124.61 127.94L124.90 127.91L125.20 127.88L125.50 127.85L125.79 127.83L126.09 127.80L126.39 127.77L126.68 127.75L126.98 127.73L127.28 127.70L127.58 127.68L127.88 127.66L128.17 127.64L128.47 127.63L128.77 127.61L129.07 127.59L129.37 127.58L129.66 127.56L129.96 127.55L130.26 127.54L130.56 127.53L130.85 127.52L131.15 127.52L131.45 127.51L131.74 127.50L132.04 127.50L132.34 127.50L132.63 127.50L132.93 127.50L133.22 127.50L133.52 127.51L133.81 127.51L134.11 127.52L134.40 127.53L134.70 127.53L135.00 127.54L135.29 127.55L135.59 127.57L135.88 127.58L136.18 127.59L136.47 127.61L136.77 127.62L137.07 127.64L137.36 127.65L137.66 127.67L137.95 127.69L138.25 127.71L138.54 127.72L138.84 127.74L139.14 127.76L139.43 127.78L139.73 127.80L140.02 127.83L140.32 127.85L140.61 127.87L140.91 127.89L141.21 127.91L141.50 127.93L141.80 127.96L142.09 127.98L142.39 128.00L142.68 128.02L142.98 128.05L143.28 128.07L143.57 128.09L143.87 128.11L144.16 128.13L144.46 128.15L144.75 128.18L145.05 128.20L145.34 128.22L145.64 128.24L145.93 128.26L146.23 128.28L146.52 128.31L146.82 128.33L147.11 128.35L147.41 128.38L147.70 128.41L148.00 128.43L148.29 128.46L148.59 128.48L148.88 128.51L149.18 128.54L149.47 128.56L149.77 128.59L150.06 128.62L150.36 128.65L150.65 128.67L150.95 128.70L151.24 128.73L151.54 128.76L151.83 128.78L152.13 128.81L152.42 128.84L152.72 128.87L153.01 128.89L153.31 128.92L153.60 128.95L153.89 128.98L154.19 129.01L154.48 129.03L154.78 129.06L155.07 129.09L155.37 129.12L155.66 129.15L155.96 129.18L156.25 129.21L156.55 129.23L156.84 129.26L157.14 129.29L157.43 129.32L157.73 129.35L158.02 129.38L158.31 129.41L158.61 129.44L158.90 129.47L159.20 129.50L159.49 129.53L159.79 129.56L160.08 129.59L160.38 129.62L160.67 129.65L160.97 129.68L161.26 129.71L161.55 129.74L161.85 129.77L162.14 129.80L162.44 129.83L162.73 129.86L163.03 129.89L163.32 129.92L163.62 129.96L163.91 129.99L164.21 130.02L164.50 130.05L164.79 130.08L165.09 130.11L165.38 130.14L165.68 130.17L165.97 130.20L166.27 130.23L166.56 130.27L166.86 130.30L167.15 130.33L167.44 130.36L167.74 130.39L168.03 130.42L168.33 130.46L168.62 130.49L168.92 130.52L169.21 130.55L169.50 130.59L169.80 130.62L170.09 130.65L170.39 130.68L170.68 130.72L170.98 130.75L171.27 130.78L171.56 130.81L171.86 130.85L172.15 130.88L172.45 130.91L172.74 130.95L173.04 130.98L173.33 131.01L173.62 131.04L173.92 131.08L174.21 131.11L174.51 131.14L174.80 131.18L175.09 131.21L175.39 131.24L175.68 131.28L175.98 131.31L176.27 131.34L176.57 131.38L176.86 131.41L177.15 131.44L177.45 131.47L177.74 131.51L178.04 131.54L178.33 131.57L178.63 131.60L178.92 131.64L179.22 131.67L179.51 131.70L179.80 131.73L180.10 131.77L180.39 131.80L180.69 131.83L180.98 131.87L181.28 131.90L181.57 131.93L181.86 131.97L182.16 132.00L182.45 132.03L182.75 132.07L183.04 132.10L183.33 132.14L183.63 132.17L183.92 132.21L184.22 132.24L184.51 132.28L184.80 132.32L185.10 132.35L185.39 132.39L185.68 132.43L185.98 132.47L186.27 132.50L186.56 132.54L186.86 132.58L187.15 132.62L187.44 132.66L187.74 132.70L188.03 132.74L188.32 132.78L188.62 132.82L188.91 132.86L189.20 132.91L189.49 132.95L189.79 132.99L190.08 133.03L190.37 133.08L190.67 133.12L190.96 133.16L191.25 133.21L191.54 133.25L191.84 133.29L192.13 133.34L192.42 133.38L192.71 133.43L193.01 133.47L193.30 133.52L193.59 133.56L193.88 133.61L194.18 133.66L194.47 133.70L194.76 133.75L195.05 133.80L195.34 133.84L195.64 133.89L195.93 133.94L196.22 133.99L196.51 134.03L196.81 134.08L197.10 134.13L197.39 134.18L197.68 134.23L197.97 134.28L198.27 134.32L198.56 134.37L198.85 134.42L199.14 134.47L199.43 134.52L199.72 134.57L200.02 134.62L200.31 134.67L200.60 134.72L200.89 134.77L201.18 134.82L201.48 134.88L201.77 134.93L202.06 134.98L202.35 135.03L202.64 135.08L202.93 135.13L203.23 135.18L203.52 135.24L203.81 135.29L204.10 135.34L204.39 135.39L204.68 135.44L204.98 135.50L205.27 135.55L205.56 135.60L205.85 135.65L206.14 135.71L206.43 135.76L206.72 135.81L207.02 135.86L207.31 135.92L207.60 135.97L207.89 136.02L208.18 136.08L208.47 136.13L208.76 136.18L209.06 136.24L209.35 136.29L209.64 136.34L209.93 136.40L210.22 136.45L210.51 136.50L210.80 136.56L211.10 136.61L211.39 136.66L211.68 136.72L211.97 136.77L212.26 136.83L212.55 136.88L212.84 136.93L213.13 136.99L213.43 137.04L213.72 137.09L214.01 137.15L214.30 137.20L214.59 137.25L214.88 137.31L215.17 137.36L215.47 137.42L215.76 137.47L216.05 137.52L216.34 137.58L216.63 137.63L216.92 137.68L217.21 137.74L217.51 137.79L217.80 137.84L218.09 137.90L218.38 137.95L218.67 138.00L218.96 138.05L219.25 138.11L219.54 138.16L219.84 138.21L220.13 138.26L220.42 138.32L220.71 138.37L221.00 138.42L221.29 138.47L221.58 138.53L221.88 138.58L222.17 138.63L222.46 138.68L222.75 138.73L223.04 138.79L223.33 138.84L223.62 138.89L223.92 138.94L224.21 139.00L224.50 139.05L224.79 139.10L225.08 139.15L225.37 139.21L225.66 139.26L225.96 139.31L226.25 139.37L226.54 139.42L226.83 139.47L227.12 139.53L227.41 139.58L227.70 139.63L227.99 139.69L228.29 139.74L228.58 139.79L228.87 139.85L229.16 139.90L229.45 139.96L229.74 140.01L230.03 140.06L230.32 140.12L230.61 140.17L230.91 140.22L231.20 140.28L231.49 140.33L231.78 140.39L232.07 140.44L232.36 140.49L232.65 140.55L232.94 140.60L233.23 140.66L233.53 140.71L233.82 140.76L234.11 140.82L234.40 140.87L234.69 140.93L234.98 140.98L235.27 141.03L235.56 141.09L235.85 141.14L236.15 141.19L236.44 141.25L236.73 141.30L237.02 141.36L237.31 141.41L237.60 141.46L237.89 141.52L238.18 141.57L238.48 141.62L238.77 141.68L239.06 141.73L239.35 141.78L239.64 141.83L239.93 141.89L240.22 141.94L240.51 141.99L240.81 142.05L241.10 142.10L241.39 142.15L241.68 142.20L241.97 142.25L242.26 142.31L242.55 142.36L242.85 142.41L243.14 142.46L243.43 142.51L243.72 142.57L244.01 142.62L244.30 142.67L244.59 142.72L244.89 142.77L245.18 142.83L245.47 142.88L245.76 142.93L246.05 142.98L246.34 143.03L246.64 143.09L246.93 143.14L247.22 143.19L247.51 143.24L247.80 143.30L248.09 143.35L248.38 143.40L248.67 143.46L248.97 143.51L249.26 143.56L249.55 143.62L249.84 143.67L250.13 143.72L250.42 143.78L250.71 143.83L251.00 143.89L251.29 143.94L251.59 144.00L251.88 144.05L252.17 144.11L252.46 144.16L252.75 144.22L253.04 144.27L253.33 144.33L253.62 144.38L253.91 144.44L254.20 144.49L254.49 144.55L254.79 144.60L255.08 144.66L255.37 144.71L255.66 144.77L255.95 144.82L256.24 144.88L256.53 144.94L256.82 144.99L257.11 145.05L257.40 145.10L257.69 145.16L257.98 145.22L258.27 145.27L258.56 145.33L258.86 145.39L259.15 145.44L259.44 145.50L259.73 145.56L260.02 145.61L260.31 145.67L260.60 145.73L260.89 145.78L261.18 145.84L261.47 145.90L261.76 145.96L262.05 146.01L262.34 146.07L262.63 146.13L262.92 146.19L263.21 146.24L263.50 146.30L263.79 146.36L264.08 146.42L264.37 146.47L264.66 146.53L264.96 146.59L265.25 146.65L265.54 146.71L265.83 146.77L266.12 146.82L266.41 146.88L266.70 146.94L266.99 147.00L267.28 147.06L267.57 147.12L267.86 147.18L268.15 147.24L268.44 147.30L268.73 147.36L269.02 147.41L269.31 147.47L269.60 147.53L269.89 147.59L270.18 147.65L270.47 147.71L270.76 147.77L271.05 147.83L271.34 147.89L271.63 147.95L271.92 148.01L272.21 148.07L272.50 148.13L272.79 148.20L273.08 148.26L273.37 148.32L273.66 148.38L273.95 148.44L274.24 148.50L274.52 148.56L274.81 148.62L275.10 148.68L275.39 148.74L275.68 148.81L275.97 148.87L276.26 148.93L276.55 148.99L276.84 149.05L277.13 149.11L277.42 149.18L277.71 149.24L278.00 149.30" stroke-dasharray="7.4 1.6 7.2 2 0.9 1.3" stroke-dashoffset="15.37" stroke-width="1.2"/>
</g>
<g fill="#686868" stroke="#585858" stroke-width="0.9">
<circle cx="83.4" cy="50.8" r="3.65"/>
<circle cx="86.3" cy="48.6" r="3.65"/>
<circle cx="86.3" cy="52.9" r="3.65"/>
<circle cx="88.3" cy="61.9" r="3.65"/>
<circle cx="91.3" cy="66.6" r="3.65"/>
<circle cx="94.9" cy="70.2" r="3.65"/>
<circle cx="99.5" cy="73.7" r="3.65"/>
<circle cx="105.9" cy="77.8" r="3.65"/>
<circle cx="117.4" cy="88.8" r="3.65"/>
<circle cx="129.1" cy="94.4" r="3.65"/>
<circle cx="152.2" cy="112.4" r="3.65"/>
<circle cx="175.1" cy="122.8" r="3.65"/>
<circle cx="222.1" cy="131.4" r="3.65"/>
<circle cx="290.7" cy="152.1" r="3.65"/>
<circle cx="360.5" cy="167.2" r="3.65"/>
</g>
</g>
</svg></body></html>
